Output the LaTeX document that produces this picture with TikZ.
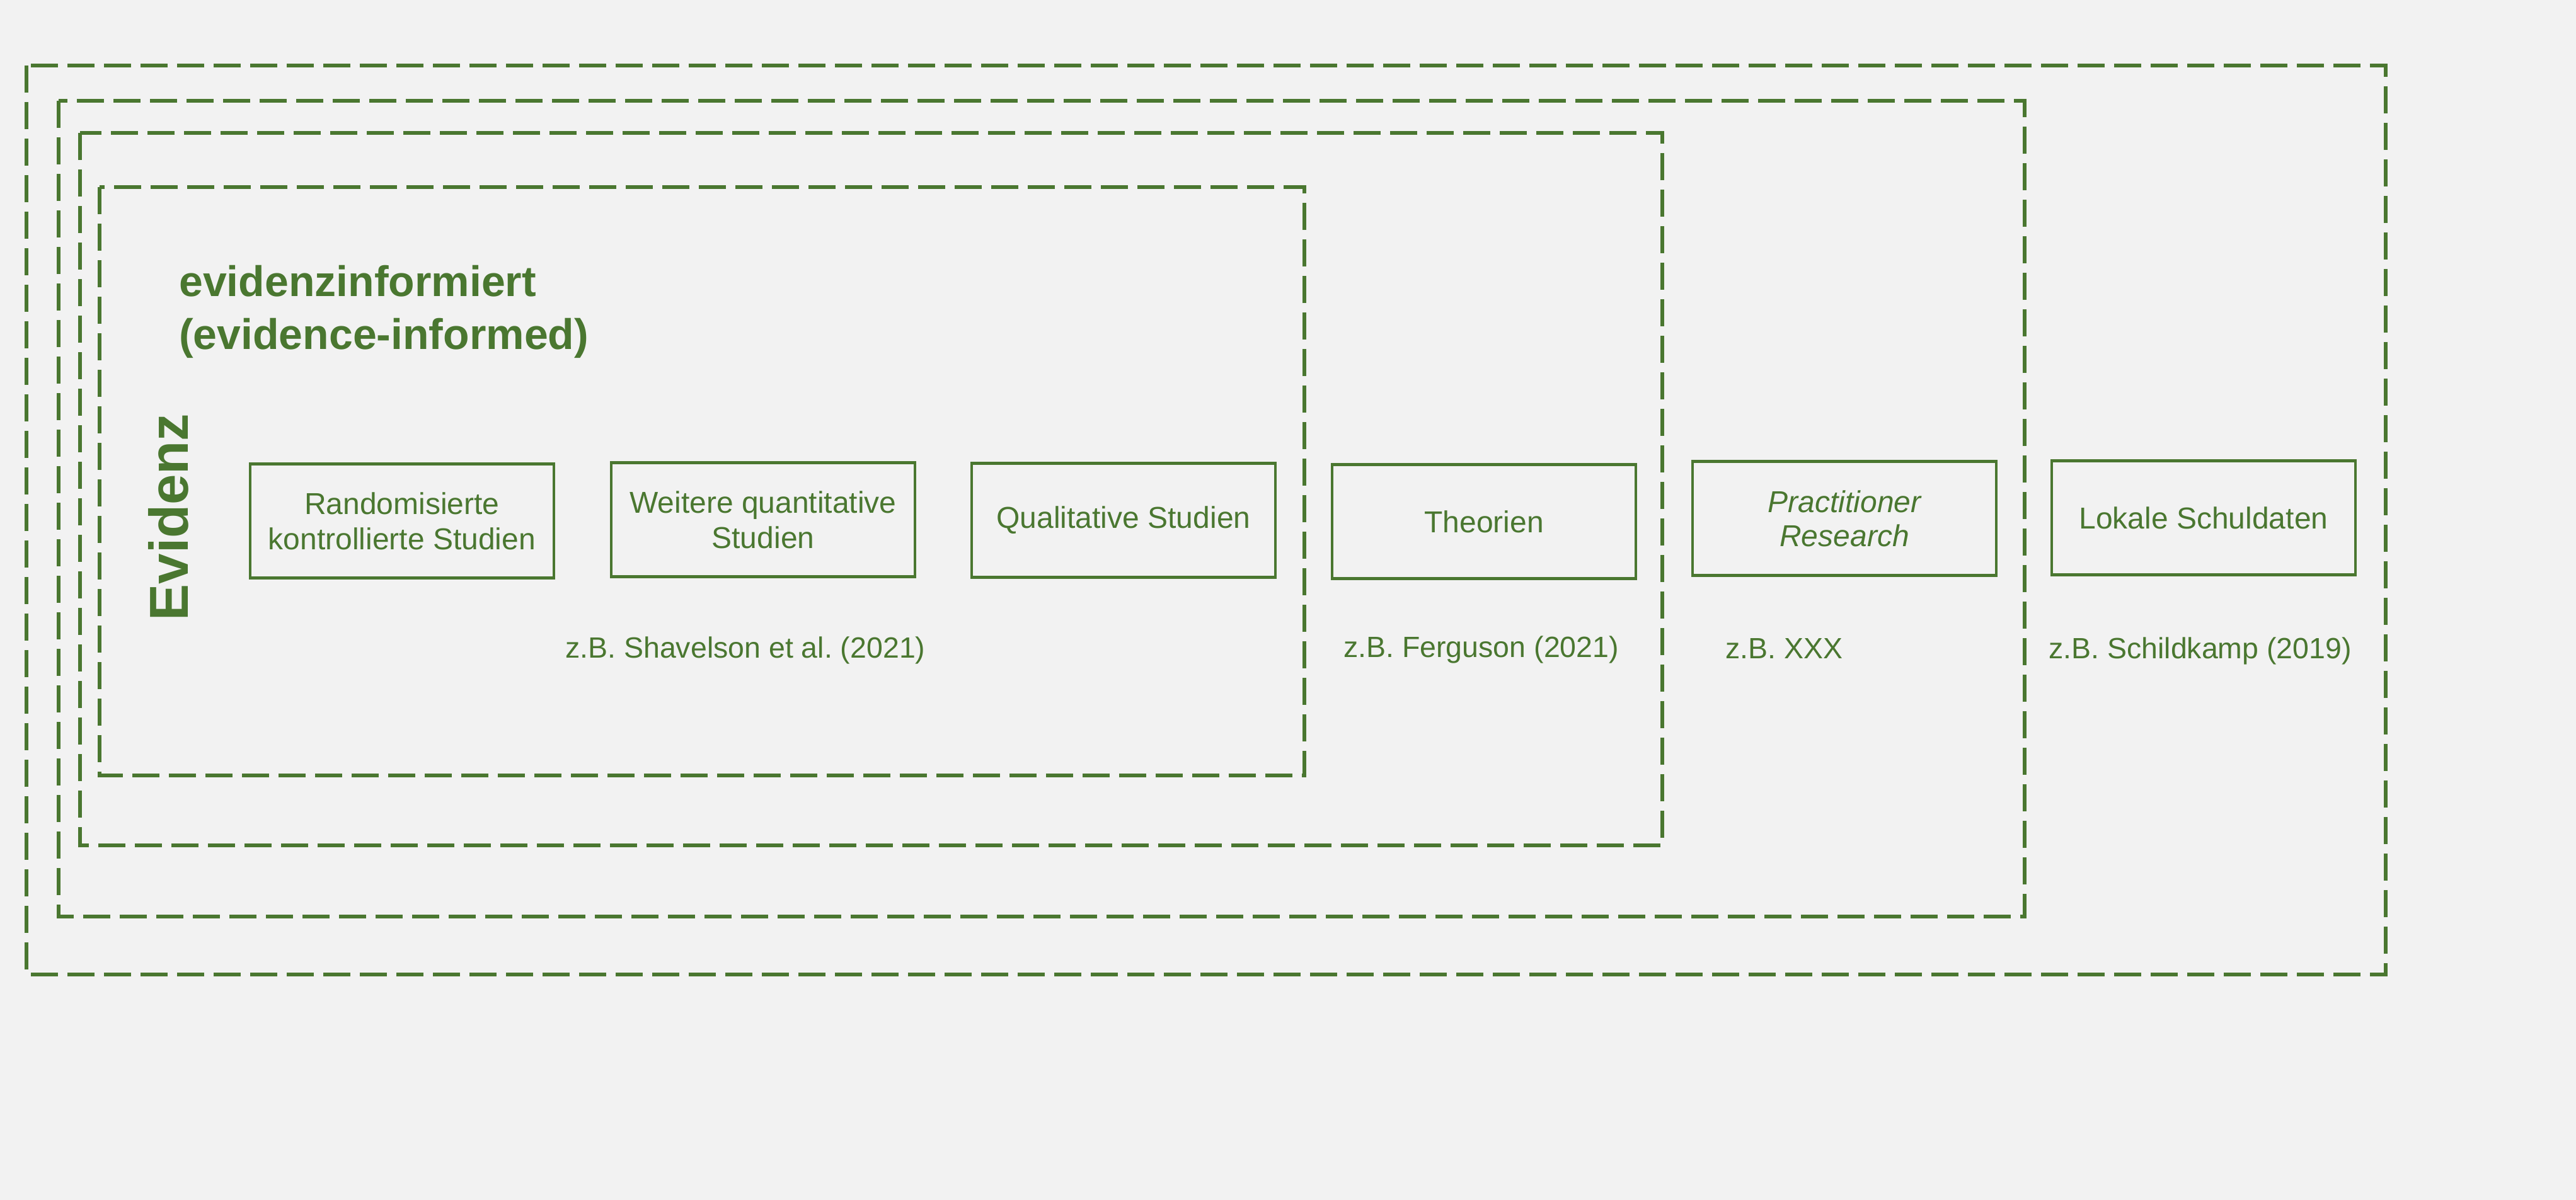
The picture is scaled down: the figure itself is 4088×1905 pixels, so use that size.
\documentclass[tikz,border=0pt]{standalone}
\usepackage{fontspec}
\setmainfont{Liberation Sans}
\frenchspacing
\definecolor{grn}{HTML}{4A7730}
\definecolor{bgc}{HTML}{F2F2F2}
\begin{document}
\begin{tikzpicture}[x=1pt,y=-1pt,
  dbox/.style={draw=grn, line width=5.5pt, dash pattern=on 43pt off 15pt},
  sbox/.style={draw=grn, line width=4.5pt, text=grn, align=center, inner sep=0pt,
    minimum width=482pt, minimum height=181pt, font=\fontsize{48}{56}\selectfont},
  cite/.style={text=grn, anchor=base west, inner sep=0pt, font=\fontsize{46.5}{54}\selectfont},
  head/.style={text=grn, anchor=base west, inner sep=0pt, font=\bfseries\fontsize{68}{84}\selectfont}]
\fill[bgc] (0,0) rectangle (4088,1905);
\useasboundingbox (0,0) rectangle (4088,1905);
% nested dashed frames
\draw[dbox] (42,104) rectangle (3786,1547);
\draw[dbox] (93,160) rectangle (3213,1455);
\draw[dbox] (127,211) rectangle (2638,1342);
\draw[dbox] (158,297) rectangle (2070,1231);
% headings
\node[head] (h1) at (284,470) {evidenzinformiert};
\node[head] (h2) at (284,554) {(evidence-informed)};
\node[text=grn, rotate=90, anchor=base, inner sep=0pt, font=\bfseries\fontsize{87}{90}\selectfont] (evz) at (298,821) {Evidenz};
% boxes
\node[sbox] (rct) at (638,827) {Randomisierte\\kontrollierte Studien};
\node[sbox] (wqs) at (1211,825) {Weitere quantitative\\Studien};
\node[sbox] (qls) at (1783,826) {Qualitative Studien};
\node[sbox] (thr) at (2355,828) {Theorien};
\node[sbox, font=\itshape\fontsize{48}{54}\selectfont] (prr) at (2927,823) {Practitioner\\Research};
\node[sbox] (lsd) at (3497,822) {Lokale Schuldaten};
% citations
\node[cite] (c1) at (897,1044) {z.B. Shavelson et al. (2021)};
\node[cite] (c2) at (2132,1043) {z.B. Ferguson (2021)};
\node[cite] (c3) at (2738,1045) {z.B. XXX};
\node[cite] (c4) at (3251,1045) {z.B. Schildkamp (2019)};
\end{tikzpicture}
\end{document}
